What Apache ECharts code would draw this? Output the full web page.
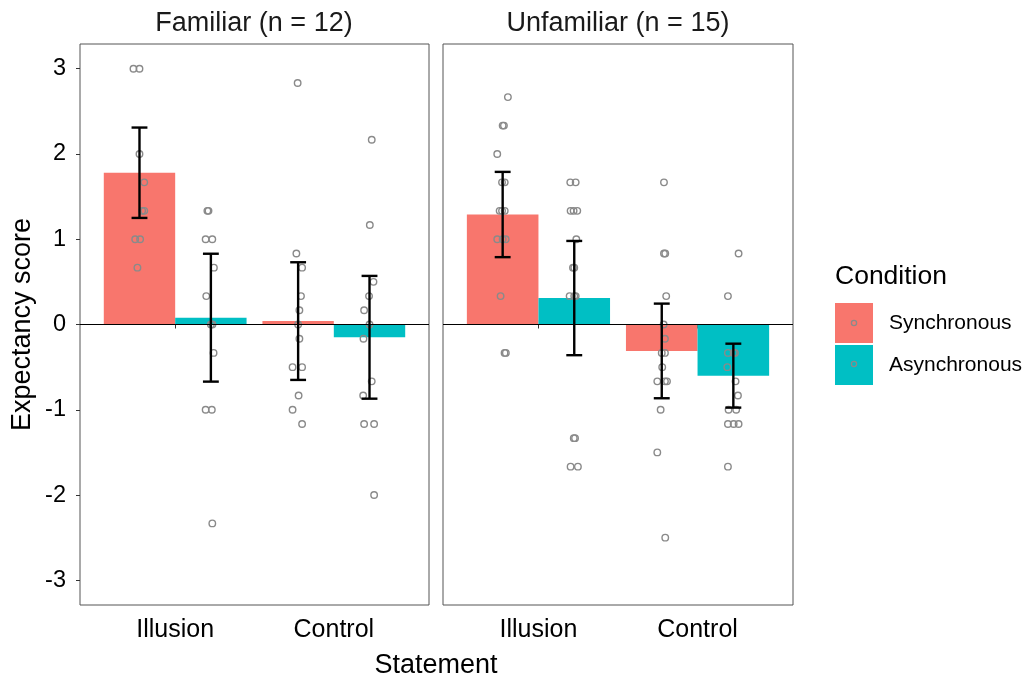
<!DOCTYPE html>
<html>
<head>
<meta charset="utf-8">
<script src="https://cdn.jsdelivr.net/npm/echarts@6/dist/echarts.min.js"></script>
<style>
html,body{margin:0;padding:0;background:#fff;}
#main{width:1025px;height:680px;}
</style>
</head>
<body>
<div id="main"></div>
<script>
// ---------- data ----------
const categories = ['Illusion', 'Control'];
const conditions = ['Synchronous', 'Asynchronous'];
const facets = ['Familiar (n = 12)', 'Unfamiliar (n = 15)'];
const yTicks = [-3, -2, -1, 0, 1, 2, 3];

// group means (Illusion, Control)
const famMeanSync = [1.78, 0.04];
const famMeanAsync = [0.08, -0.15];
const unfMeanSync = [1.29, -0.31];
const unfMeanAsync = [0.31, -0.60];
// error bar half-widths (Illusion, Control)
const famErrSync = [0.53, 0.69];
const famErrAsync = [0.75, 0.72];
const unfErrSync = [0.50, 0.555];
const unfErrAsync = [0.67, 0.375];

// individual scores and horizontal jitter (in category units)
const famSyncIll = [3, 3, 2, 1.667, 1.333, 1.333, 1, 1, 0.667];
const famSyncIllJit = [-0.038, 0, 0, 0.03, 0.017, 0.03, -0.027, 0.004, -0.013];
const famAsyncIll = [1.333, 1.333, 1, 1, 0.667, 0.333, 0, 0, -0.333, -1, -1, -2.333];
const famAsyncIllJit = [-0.022, -0.015, -0.033, 0.009, 0.019, -0.029, 0, 0.01, 0.017, -0.033, 0.006, 0.009];
const famSyncCon = [2.833, 0.833, 0.667, 0.333, 0.167, 0, -0.167, -0.5, -0.5, -0.833, -1, -1.167];
const famSyncConJit = [-0.003, -0.011, 0.025, 0.018, 0.008, 0, 0.008, -0.035, 0.025, 0.003, -0.035, 0.025];
const famAsyncCon = [2.167, 1.167, 0.5, 0.333, 0.167, 0, -0.167, -0.667, -0.833, -1.167, -1.167, -2];
const famAsyncConJit = [0.014, 0.002, 0.025, -0.003, -0.034, 0, -0.038, 0.014, -0.04, -0.034, 0.029, 0.029];

const unfSyncIll = [2.667, 2.333, 2.333, 2, 1.667, 1.667, 1.333, 1.333, 1.333, 1, 1, 1, 0.333, -0.333, -0.333];
const unfSyncIllJit = [0.033, 0, 0.008, -0.034, 0.013, -0.004, -0.019, 0.013, -0.004, -0.034, 0.019, 0, -0.013, 0.012, 0.02];
const unfAsyncIll = [1.667, 1.667, 1.333, 1.333, 1.333, 1, 0.667, 0.667, 0.333, 0.333, 0.333, -1.333, -1.333, -1.667, -1.667];
const unfAsyncIllJit = [-0.025, 0.009, -0.023, -0.004, 0.019, 0.013, -0.008, 0, -0.029, 0.009, 0, -0.003, 0.005, -0.023, 0.023];
const unfSyncCon = [1.667, 0.833, 0.833, 0.333, 0, -0.167, -0.333, -0.333, -0.5, -0.667, -0.667, -0.667, -1, -1.5, -2.5];
const unfSyncConJit = [0.014, 0.014, 0.022, 0.028, 0.012, 0.02, 0.02, 0, 0.003, -0.028, 0.02, 0.033, -0.007, -0.028, 0.022];
const unfAsyncCon = [0.833, 0.333, -0.333, -0.333, -0.333, -0.5, -0.667, -0.833, -1, -1, -1.167, -1.167, -1.167, -1.667];
const unfAsyncConJit = [0.033, -0.034, -0.034, 0.002, 0.01, -0.038, 0.014, 0.029, -0.03, 0.018, -0.034, 0.002, 0.033, -0.034];

// ---------- styling ----------
const FONT = 'Liberation Sans, Arial, sans-serif';
const colors = { Synchronous: '#F8766D', Asynchronous: '#00BFC4' };
const pointColor = '#8a8a8a';
const DODGE = 0.225, BARW = 0.45, CAP = 0.05;

const facetData = [
  { means: { Synchronous: famMeanSync, Asynchronous: famMeanAsync },
    errs: { Synchronous: famErrSync, Asynchronous: famErrAsync },
    pts: { Synchronous: [[famSyncIll, famSyncIllJit], [famSyncCon, famSyncConJit]],
           Asynchronous: [[famAsyncIll, famAsyncIllJit], [famAsyncCon, famAsyncConJit]] } },
  { means: { Synchronous: unfMeanSync, Asynchronous: unfMeanAsync },
    errs: { Synchronous: unfErrSync, Asynchronous: unfErrAsync },
    pts: { Synchronous: [[unfSyncIll, unfSyncIllJit], [unfSyncCon, unfSyncConJit]],
           Asynchronous: [[unfAsyncIll, unfAsyncIllJit], [unfAsyncCon, unfAsyncConJit]] } }
];

const grids = [
  { left: 80, top: 44, width: 349, height: 561, show: true, borderColor: '#555', borderWidth: 1, backgroundColor: '#fff' },
  { left: 443, top: 44, width: 350, height: 561, show: true, borderColor: '#555', borderWidth: 1, backgroundColor: '#fff' }
];

const xAxes = grids.map((g, i) => ({
  type: 'value', gridIndex: i, min: 0.4, max: 2.6,
  axisLine: { show: false },
  splitLine: { show: false },
  axisTick: { show: true, length: 4, lineStyle: { color: '#333', width: 1 }, customValues: [1, 2] },
  axisLabel: { customValues: [1, 2], formatter: v => categories[Math.round(v) - 1] || '',
    fontFamily: FONT, fontSize: 25, color: '#000', margin: 13 }
}));

const yAxes = grids.map((g, i) => ({
  type: 'value', gridIndex: i, min: -3.29, max: 3.29,
  axisLine: { show: false },
  splitLine: { show: false },
  axisTick: { show: i === 0, length: 4, lineStyle: { color: '#333', width: 1 }, customValues: yTicks },
  axisLabel: { show: i === 0, customValues: yTicks, fontFamily: FONT, fontSize: 23.5, color: '#000', margin: 14 },
  name: i === 0 ? 'Expectancy score' : '',
  nameLocation: 'middle', nameGap: 44, nameRotate: 90,
  nameTextStyle: { fontFamily: FONT, fontSize: 27, color: '#000' }
}));

const series = [];
facetData.forEach((f, gi) => {
  conditions.forEach((cond, ci) => {
    const off = ci === 0 ? -DODGE : DODGE;
    // bars
    series.push({
      type: 'custom', name: cond, xAxisIndex: gi, yAxisIndex: gi, z: 2,
      itemStyle: { color: colors[cond] },
      encode: { x: 0, y: 1 },
      data: categories.map((c, k) => [k + 1 + off, f.means[cond][k]]),
      renderItem: (params, api) => {
        const x = api.value(0), y = api.value(1);
        const p0 = api.coord([x - BARW / 2, 0]);
        const p1 = api.coord([x + BARW / 2, y]);
        return { type: 'rect',
          shape: { x: p0[0], y: Math.min(p0[1], p1[1]), width: p1[0] - p0[0], height: Math.abs(p1[1] - p0[1]) },
          style: { fill: colors[cond] } };
      }
    });
  });
  // points
  conditions.forEach((cond, ci) => {
    const off = ci === 0 ? -DODGE : DODGE;
    const data = [];
    f.pts[cond].forEach((pair, k) => {
      pair[0].forEach((v, j) => data.push([k + 1 + off + pair[1][j], v]));
    });
    series.push({
      type: 'scatter', name: cond + ' points', xAxisIndex: gi, yAxisIndex: gi, z: 3,
      symbol: 'circle', symbolSize: 6.5, silent: true,
      itemStyle: { color: 'rgba(0,0,0,0)', borderColor: pointColor, borderWidth: 1.4, opacity: 1 },
      data: data
    });
  });
  // error bars
  conditions.forEach((cond, ci) => {
    const off = ci === 0 ? -DODGE : DODGE;
    series.push({
      type: 'custom', name: cond + ' error', xAxisIndex: gi, yAxisIndex: gi, z: 4, silent: true,
      encode: { x: 0, y: [1, 2] },
      data: categories.map((c, k) => [k + 1 + off, f.means[cond][k] - f.errs[cond][k], f.means[cond][k] + f.errs[cond][k]]),
      renderItem: (params, api) => {
        const x = api.value(0);
        const lo = api.coord([x, api.value(1)]);
        const hi = api.coord([x, api.value(2)]);
        const l = api.coord([x - CAP, 0])[0], r = api.coord([x + CAP, 0])[0];
        const st = { stroke: '#000', lineWidth: 2.4 };
        return { type: 'group', children: [
          { type: 'line', shape: { x1: lo[0], y1: lo[1], x2: hi[0], y2: hi[1] }, style: st },
          { type: 'line', shape: { x1: l, y1: lo[1], x2: r, y2: lo[1] }, style: st },
          { type: 'line', shape: { x1: l, y1: hi[1], x2: r, y2: hi[1] }, style: st }
        ] };
      }
    });
  });
  // zero reference line
  series.push({
    type: 'line', name: 'zero', xAxisIndex: gi, yAxisIndex: gi, z: 5, data: [], silent: true,
    markLine: { silent: true, symbol: ['none', 'none'], label: { show: false },
      lineStyle: { color: '#000', width: 1.2, type: 'solid' }, animation: false,
      data: [{ yAxis: 0 }] }
  });
});

const chart = echarts.init(document.getElementById('main'), null, { renderer: 'canvas' });
chart.setOption({
  animation: false,
  backgroundColor: '#fff',
  textStyle: { fontFamily: FONT },
  title: [
    { text: facets[0], left: 254, top: 10, padding: 0, textAlign: 'center',
      textStyle: { fontFamily: FONT, fontSize: 27, fontWeight: 'normal', color: '#1a1a1a' } },
    { text: facets[1], left: 618, top: 10, padding: 0, textAlign: 'center',
      textStyle: { fontFamily: FONT, fontSize: 27, fontWeight: 'normal', color: '#1a1a1a' } },
    { text: 'Condition', left: 835, top: 263, padding: 0,
      textStyle: { fontFamily: FONT, fontSize: 26.5, fontWeight: 'normal', color: '#000' } }
  ],
  legend: {
    data: conditions, orient: 'vertical', left: 835, top: 303, padding: 0,
    icon: 'rect', itemWidth: 38, itemHeight: 40, itemGap: 2, selectedMode: false,
    textStyle: { fontFamily: FONT, fontSize: 21, color: '#000', padding: [0, 0, 0, 11] }
  },
  graphic: [
    { type: 'text', x: 436, y: 666, style: { text: 'Statement', font: '27px ' + FONT, fill: '#000', textAlign: 'center', textVerticalAlign: 'middle' } },
    { type: 'circle', shape: { cx: 854, cy: 323, r: 2.6 }, style: { fill: 'none', stroke: pointColor, lineWidth: 1.3 }, z: 100 },
    { type: 'circle', shape: { cx: 854, cy: 364, r: 2.6 }, style: { fill: 'none', stroke: pointColor, lineWidth: 1.3 }, z: 100 }
  ],
  grid: grids,
  xAxis: xAxes,
  yAxis: yAxes,
  series: series
});
</script>
</body>
</html>
